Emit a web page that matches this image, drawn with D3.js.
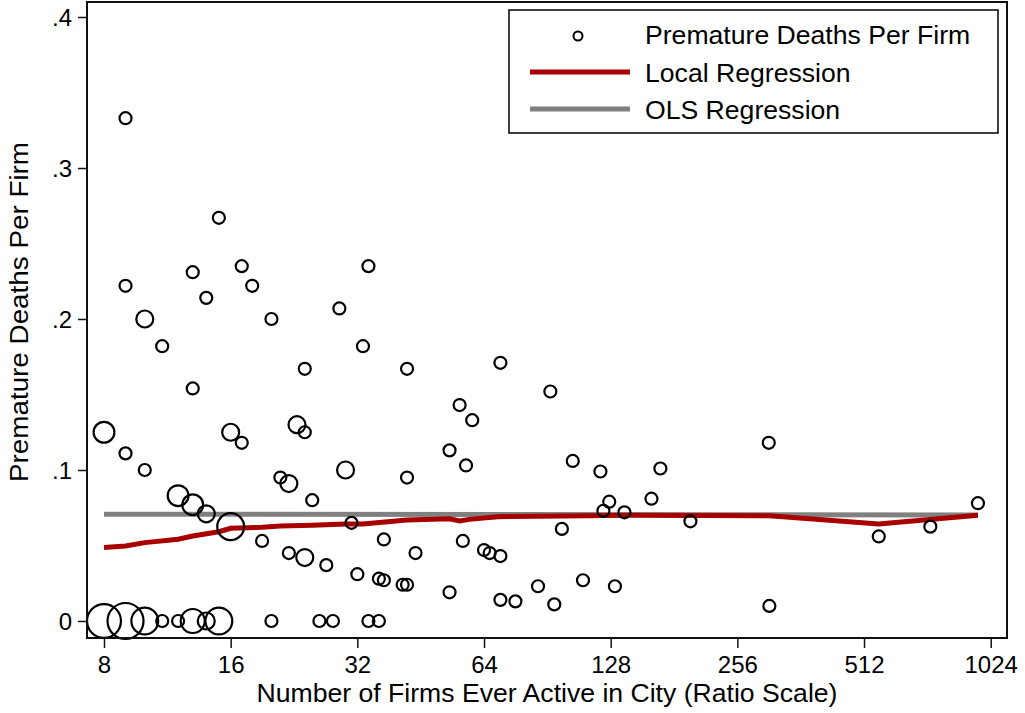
<!DOCTYPE html>
<html>
<head>
<meta charset="utf-8">
<script src="https://cdn.jsdelivr.net/npm/d3@7"></script>
<style>
  html, body { margin: 0; padding: 0; background: #fff; }
  svg { display: block; font-family: "Liberation Sans", Arial, Helvetica, sans-serif; }
</style>
</head>
<body>
<svg id="chart" width="1025" height="713"></svg>
<script>
// ---- data ----
// Number of firms ever active in city
const firms = [9, 9, 9, 15, 13, 14, 17, 18, 10, 20, 11, 13, 29, 34, 33, 24, 42, 70, 92, 56, 60,
  8, 10, 16, 17, 23, 24, 30, 21, 22, 25, 12, 13, 14, 16, 19, 22, 24, 27, 31, 37, 32, 36, 37, 41, 42,
  44, 42, 53, 58, 57, 64, 66, 70, 53, 70, 76, 86, 94, 98, 104, 121, 110, 123, 127, 131, 138, 160,
  168, 198, 304, 305, 555, 736, 955,
  8, 9, 10, 11, 12, 13, 14, 15, 20, 26, 28, 34, 36];
// Premature deaths per firm
const deathsPerFirm = [0.333, 0.222, 0.111, 0.267, 0.231, 0.214, 0.235, 0.222, 0.2, 0.2, 0.182, 0.154,
  0.207, 0.235, 0.182, 0.167, 0.167, 0.171, 0.152, 0.143, 0.133,
  0.125, 0.1, 0.125, 0.118, 0.130, 0.125, 0.1, 0.095, 0.091, 0.08, 0.083, 0.077, 0.071, 0.0625,
  0.053, 0.045, 0.042, 0.037, 0.065, 0.054, 0.031, 0.028, 0.027, 0.024, 0.024,
  0.045, 0.095, 0.113, 0.103, 0.053, 0.047, 0.045, 0.043, 0.019, 0.014, 0.013, 0.023, 0.011, 0.061,
  0.106, 0.099, 0.027, 0.073, 0.079, 0.023, 0.072, 0.081, 0.101, 0.066, 0.118, 0.010, 0.056, 0.0625, 0.078,
  0, 0, 0, 0, 0, 0, 0, 0, 0, 0, 0, 0, 0];
// Number of cities at each point (marker weight)
const cityCount = [1, 1, 1, 1, 1, 1, 1, 1, 2, 1, 1, 1, 1, 1, 1, 1, 1, 1, 1, 1, 1,
  3, 1, 2, 1, 2, 1, 2, 1, 2, 1, 3, 3, 2, 5, 1, 1, 2, 1, 1, 1, 1, 1, 1, 1, 1,
  1, 1, 1, 1, 1, 1, 1, 1, 1, 1, 1, 1, 1, 1, 1, 1, 1, 1, 1, 1, 1, 1, 1, 1, 1, 1, 1, 1, 1,
  8, 9, 5, 1, 1, 4, 2, 5, 1, 1, 1, 1, 1];

// Local regression (lowess) fit
const lowessX = [8, 9, 10, 12, 13, 15, 16, 19, 21, 25, 30, 33, 42, 53, 56, 59, 69, 99, 142, 305, 555, 955];
const lowessY = [0.0487, 0.0497, 0.0519, 0.0541, 0.0563, 0.0591, 0.0614, 0.0621, 0.0629, 0.0634,
  0.0642, 0.0642, 0.0669, 0.0677, 0.0662, 0.0673, 0.0691, 0.0695, 0.0700, 0.0697, 0.0642, 0.0700];

// OLS fit
const olsX = [8, 955];
const olsY = [0.0707, 0.0702];

// Axis ticks
const xTicks = [8, 16, 32, 64, 128, 256, 512, 1024];
const yTicks = [0, 0.1, 0.2, 0.3, 0.4];
const yTickLabels = ["0", ".1", ".2", ".3", ".4"];

const legendLabels = ["Premature Deaths Per Firm", "Local Regression", "OLS Regression"];
const xTitle = "Number of Firms Ever Active in City (Ratio Scale)";
const yTitle = "Premature Deaths Per Firm";

// ---- layout ----
const frame = { left: 87, right: 1007, top: 2, bottom: 638 };
const svg = d3.select("#chart");
const FONT = 24;      // tick labels
const TFONT = 25.5;   // titles and legend
const WIDE = 26.6 / TFONT; // horizontal widening seen in the reference text

const x = d3.scaleLog().base(2).domain([8, 1024]).range([104, 990.7]);
const y = d3.scaleLinear().domain([0, 0.4]).range([621, 17]);
const r = d3.scaleSqrt().domain([0, 1]).range([0, 6]);

const RED = "#a80000";
const GRAY = "#808080";

function widen(sel, factor) {
  sel.each(function () {
    const w = this.getComputedTextLength();
    d3.select(this).attr("textLength", w * factor).attr("lengthAdjust", "spacingAndGlyphs");
  });
}

svg.append("rect").attr("width", 1025).attr("height", 713).attr("fill", "#fff");

// OLS line
svg.append("path")
  .datum(olsX.map((d, i) => [d, olsY[i]]))
  .attr("fill", "none").attr("stroke", GRAY).attr("stroke-width", 5)
  .attr("d", d3.line().x(d => x(d[0])).y(d => y(d[1])));

// Lowess line
svg.append("path")
  .datum(lowessX.map((d, i) => [d, lowessY[i]]))
  .attr("fill", "none").attr("stroke", RED).attr("stroke-width", 5)
  .attr("d", d3.line().x(d => x(d[0])).y(d => y(d[1])));

// scatter
const pts = firms.map((d, i) => ({ x: d, y: deathsPerFirm[i], w: cityCount[i] }));
svg.append("g").selectAll("circle").data(pts).join("circle")
  .attr("cx", d => x(d.x)).attr("cy", d => y(d.y)).attr("r", d => r(d.w))
  .attr("fill", "none").attr("stroke", "#000").attr("stroke-width", 2.2);

// frame
svg.append("rect")
  .attr("x", frame.left).attr("y", frame.top)
  .attr("width", frame.right - frame.left).attr("height", frame.bottom - frame.top)
  .attr("fill", "none").attr("stroke", "#111").attr("stroke-width", 2);

// x axis
const xAxis = svg.append("g").attr("transform", `translate(0,${frame.bottom})`)
  .call(d3.axisBottom(x).tickValues(xTicks).tickFormat(d3.format("d")).tickSize(10).tickPadding(0));
xAxis.select(".domain").remove();
xAxis.selectAll(".tick line").attr("stroke", "#111").attr("stroke-width", 1.5);
xAxis.selectAll(".tick text").attr("font-size", FONT).attr("font-family", "Liberation Sans, Arial, sans-serif")
  .attr("fill", "#000").attr("y", 35).attr("dy", 0);

// y axis
const yAxis = svg.append("g").attr("transform", `translate(${frame.left},0)`)
  .call(d3.axisLeft(y).tickValues(yTicks).tickFormat((d, i) => yTickLabels[i]).tickSize(9).tickPadding(0));
yAxis.select(".domain").remove();
yAxis.selectAll(".tick line").attr("stroke", "#111").attr("stroke-width", 1.5);
yAxis.selectAll(".tick text").attr("font-size", FONT).attr("font-family", "Liberation Sans, Arial, sans-serif")
  .attr("fill", "#000").attr("x", -15).attr("dy", "0.35em");

// axis titles
svg.append("text").attr("x", (frame.left + frame.right) / 2).attr("y", 702)
  .attr("text-anchor", "middle").attr("font-size", TFONT).text(xTitle)
  .call(widen, WIDE);
svg.append("text").attr("transform", "translate(28,312) rotate(-90)")
  .attr("text-anchor", "middle").attr("font-size", TFONT).text(yTitle)
  .call(widen, 340 / (12.225 * TFONT));

// legend
const lg = svg.append("g");
lg.append("rect").attr("x", 509).attr("y", 10).attr("width", 489).attr("height", 123)
  .attr("fill", "#fff").attr("stroke", "#000").attr("stroke-width", 1.5);
lg.append("circle").attr("cx", 578).attr("cy", 36).attr("r", 4.5)
  .attr("fill", "none").attr("stroke", "#000").attr("stroke-width", 2);
lg.append("line").attr("x1", 530).attr("x2", 630).attr("y1", 72).attr("y2", 72)
  .attr("stroke", RED).attr("stroke-width", 5);
lg.append("line").attr("x1", 530).attr("x2", 630).attr("y1", 109).attr("y2", 109)
  .attr("stroke", GRAY).attr("stroke-width", 5);
lg.selectAll("text.lab").data(legendLabels).join("text").attr("class", "lab")
  .attr("x", 645).attr("y", (d, i) => 44 + i * 37.5)
  .attr("font-size", TFONT).text(d => d)
  .call(widen, WIDE);
</script>
</body>
</html>
